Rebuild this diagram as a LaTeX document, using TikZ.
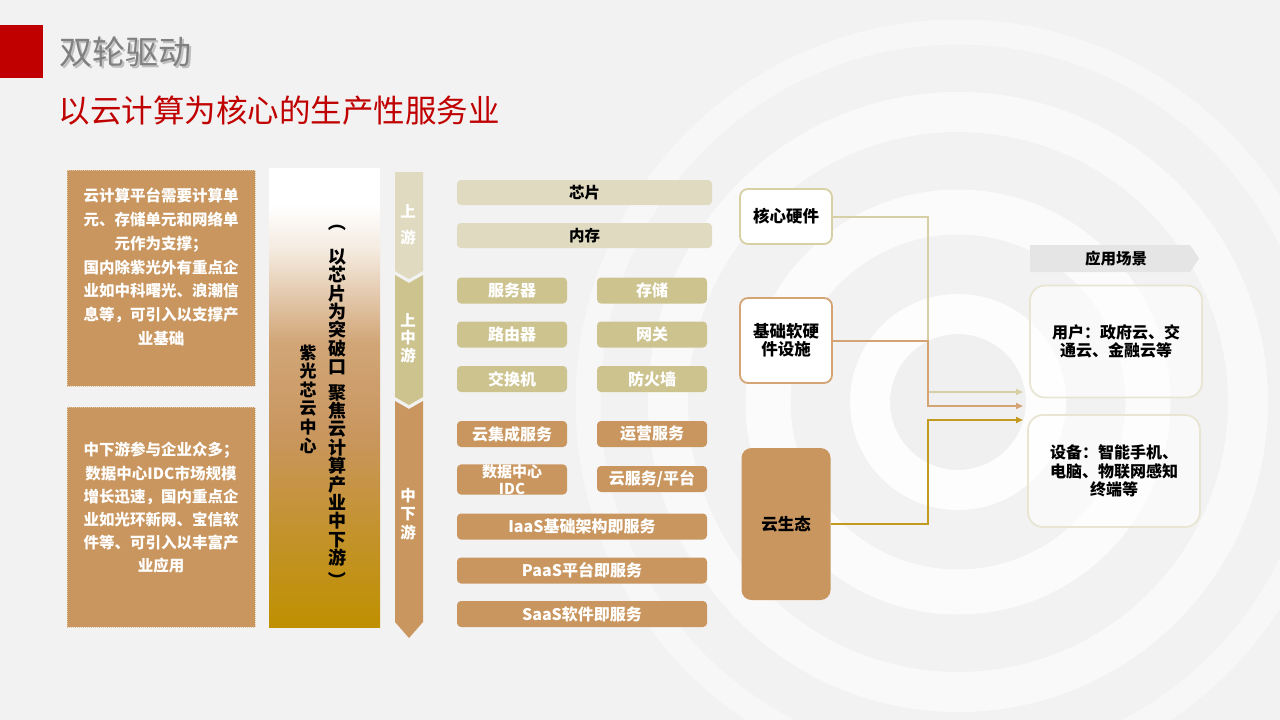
\documentclass[tikz,border=0pt]{standalone}
\usepackage{fontspec}
\setmainfont{Noto Sans CJK SC}
\usetikzlibrary{arrows.meta}

\definecolor{slidered}{HTML}{C00000}
\definecolor{cloudtan}{HTML}{C9965F}
\definecolor{cloudgold}{HTML}{BF9000}
\definecolor{khaki}{HTML}{CCC38F}
\definecolor{palekhaki}{HTML}{DFDAC0}
\definecolor{bggray}{HTML}{F2F2F2}
\definecolor{linekhaki}{HTML}{D7D0A5}
\definecolor{linetan}{HTML}{D4A474}
\definecolor{linegold}{HTML}{C19A1E}

\pgfdeclareverticalshading{columnshade}{100bp}{color(0bp)=(cloudgold); color(25bp)=(cloudgold); color(36bp)=(cloudgold!50!cloudtan); color(46bp)=(cloudtan); color(56bp)=(cloudtan!85!white); color(66bp)=(cloudtan!20!white); color(71bp)=(white); color(100bp)=(white)}

\newcommand{\fs}[2]{\fontsize{#1}{#2}\selectfont}

\begin{document}
\begin{tikzpicture}[x=1pt,y=-1pt,
	infobox/.style={rectangle, fill=cloudtan, draw=cloudtan!55!white, densely dotted, line width=1pt, minimum width=188pt, inner sep=0pt, text=white, align=center, font=\bfseries\fs{15.5}{23.5}},
	upbox/.style={rectangle, rounded corners=4pt, fill=palekhaki, minimum width=255pt, minimum height=25pt, inner sep=0pt, font=\bfseries\fs{15.5}{15.5}},
	midbox/.style={rectangle, rounded corners=4pt, fill=khaki, minimum width=110pt, minimum height=26pt, inner sep=0pt, align=center, text=white, font=\bfseries\fs{16}{16}},
	lowbox/.style={midbox, fill=cloudtan},
	widebox/.style={lowbox, minimum width=250pt},
	ribtext/.style={text=white, align=center, inner sep=0pt},
	vtext/.style={align=center, inner sep=0pt},
	vparen/.style={inner sep=0pt, rotate=-90, font=\bfseries\fs{18}{18}},
	rolebox/.style={rectangle, rounded corners=8pt, fill=white, line width=1.8pt, minimum width=92pt, inner sep=0pt, align=center, font=\bfseries\fs{16.5}{18}},
	scenebox/.style={rectangle, rounded corners=15pt, fill=white, fill opacity=0.6, text opacity=1, draw=palekhaki!70!white, line width=1.8pt, minimum width=172pt, minimum height=112pt, inner sep=0pt, align=center, font=\bfseries\fs{16}{18.5}},
	feed/.style={line width=2pt, -{Triangle[length=7pt,width=6pt]}}]
	\clip (0,0) rectangle (1280,720);
	\fill[bggray] (0,0) rectangle (1280,720);
	% rings behind the right part
	\fill[black!6] (958,402) circle (68);
	\draw[white, line width=40pt, opacity=0.9] (958,402) circle (88);
	\draw[white, line width=45pt, opacity=0.7] (958,402) circle (190);
	\draw[white, line width=40pt, opacity=0.6] (958,402) circle (290);
	\draw[white, line width=25pt, opacity=0.4] (958,402) circle (370);

	% title
	\fill[slidered] (0,25) rectangle (43,78);
	\node[anchor=west, text=black!25, font=\fs{33}{33}] at (58,54) {双轮驱动};
	\node[anchor=west, text=black!50, font=\fs{33}{33}] (title) at (56,52) {双轮驱动};
	\node[anchor=west, text=slidered, font=\fs{31.5}{31.5}] (subtitle) at (55,111) {以云计算为核心的生产性服务业};

	% left notes
	\node[infobox, minimum height=216pt] (noteup) at (161,278) {};
	\node[text=white, align=center, font=\bfseries\fs{15.5}{23.7}] (noteuptext) at (161,267)
		{云计算平台需要计算单\\元、存储单元和网络单\\元作为支撑；\\国内除紫光外有重点企\\业如中科曙光、浪潮信\\息等，可引入以支撑产\\业基础};
	\node[infobox, minimum height=220pt] (notedown) at (161,517) {};
	\node[text=white, align=center, font=\bfseries\fs{15.5}{23.2}] (notedowntext) at (161,508)
		{中下游参与企业众多；\\数据中心IDC市场规模\\增长迅速，国内重点企\\业如光环新网、宝信软\\件等、可引入以丰富产\\业应用};

	% centre column
	\shade[shading=columnshade] (269,168) rectangle (380,627);
	\node[vparen] (focusopen) at (337,222) {（};
	\node[vtext, font=\bfseries\fs{18}{18.4}] (focus) at (337,407.5)
		{以\\芯\\片\\为\\突\\破\\口\\[7pt]聚\\焦\\云\\计\\算\\产\\业\\中\\下\\游};
	\node[vparen] (focusclose) at (337,580) {）};
	\node[vtext, font=\bfseries\fs{17}{18.6}] (center) at (308,399) {紫\\光\\芯\\云\\中\\心};

	% stream ribbon
	\fill[palekhaki] (395,172) -- (423,172) -- (423,271) -- (409,279) -- (395,271) -- cycle;
	\fill[khaki] (395,275) -- (409,283) -- (423,275) -- (423,397) -- (409,405) -- (395,397) -- cycle;
	\fill[cloudtan] (395,401) -- (409,409) -- (423,401) -- (423,622) -- (409,638) -- (395,622) -- cycle;
	\node[ribtext, font=\bfseries\fs{15.5}{26}] (up) at (408,225) {上\\游};
	\node[ribtext, font=\bfseries\fs{15.5}{17.5}] (upmid) at (408,338) {上\\中\\游};
	\node[ribtext, font=\bfseries\fs{15.5}{18.5}] (middown) at (408,514) {中\\下\\游};

	% product boxes
	\node[upbox] (chip) at (584.5,192.5) {芯片};
	\node[upbox] (memory) at (584.5,235.5) {内存};
	\node[midbox] (server) at (512,290.5) {服务器};
	\node[midbox] (storage) at (652,290.5) {存储};
	\node[midbox] (router) at (512,334.5) {路由器};
	\node[midbox] (gateway) at (652,334.5) {网关};
	\node[midbox] (switch) at (512,379) {交换机};
	\node[midbox] (firewall) at (652,379) {防火墙};
	\node[lowbox] (integration) at (512,434) {云集成服务};
	\node[lowbox] (operation) at (652,434) {运营服务};
	\node[lowbox, font=\bfseries\fs{15}{17}] (idc) at (512,479.5) {数据中心\\IDC};
	\node[lowbox] (platform) at (652,479) {云服务/平台};
	\node[widebox] (iaas) at (582,526.5) {IaaS基础架构即服务};
	\node[widebox] (paas) at (582,570.5) {PaaS平台即服务};
	\node[widebox] (saas) at (582,614) {SaaS软件即服务};

	% roles
	\node[rolebox, draw=linekhaki, minimum height=55pt] (core) at (786,216.5) {核心硬件};
	\node[rolebox, draw=linetan, minimum height=85pt] (infra) at (786,340.5) {基础软硬\\件设施};
	\node[rolebox, fill=cloudtan, rounded corners=10pt, minimum width=89pt, minimum height=152pt] (eco) at (786,524) {云生态};

	% scenes
	\fill[black!10] (1030,245) -- (1190,245) -- (1199,258.5) -- (1190,272) -- (1030,272) -- cycle;
	\node[font=\bfseries\fs{15.5}{15.5}] (scene) at (1116,258.5) {应用场景};
	\node[scenebox] (users) at (1116,341.5) {用户：政府云、交\\通云、金融云等};
	\node[scenebox] (devices) at (1114,471) {设备：智能手机、\\电脑、物联网感知\\终端等};

	% connectors
	\coordinate (bus) at (928,0);
	\coordinate (in1) at (1023,392);
	\coordinate (in2) at (1023,406);
	\coordinate (in3) at (1023,420);
	\draw[feed, linekhaki] (core.east) -- (core.east -| bus) |- (in1);
	\draw[feed, linetan] (infra.east) -- (infra.east -| bus) |- (in2);
	\draw[feed, linegold] (eco.east) -- (eco.east -| bus) |- (in3);
\end{tikzpicture}
\end{document}
